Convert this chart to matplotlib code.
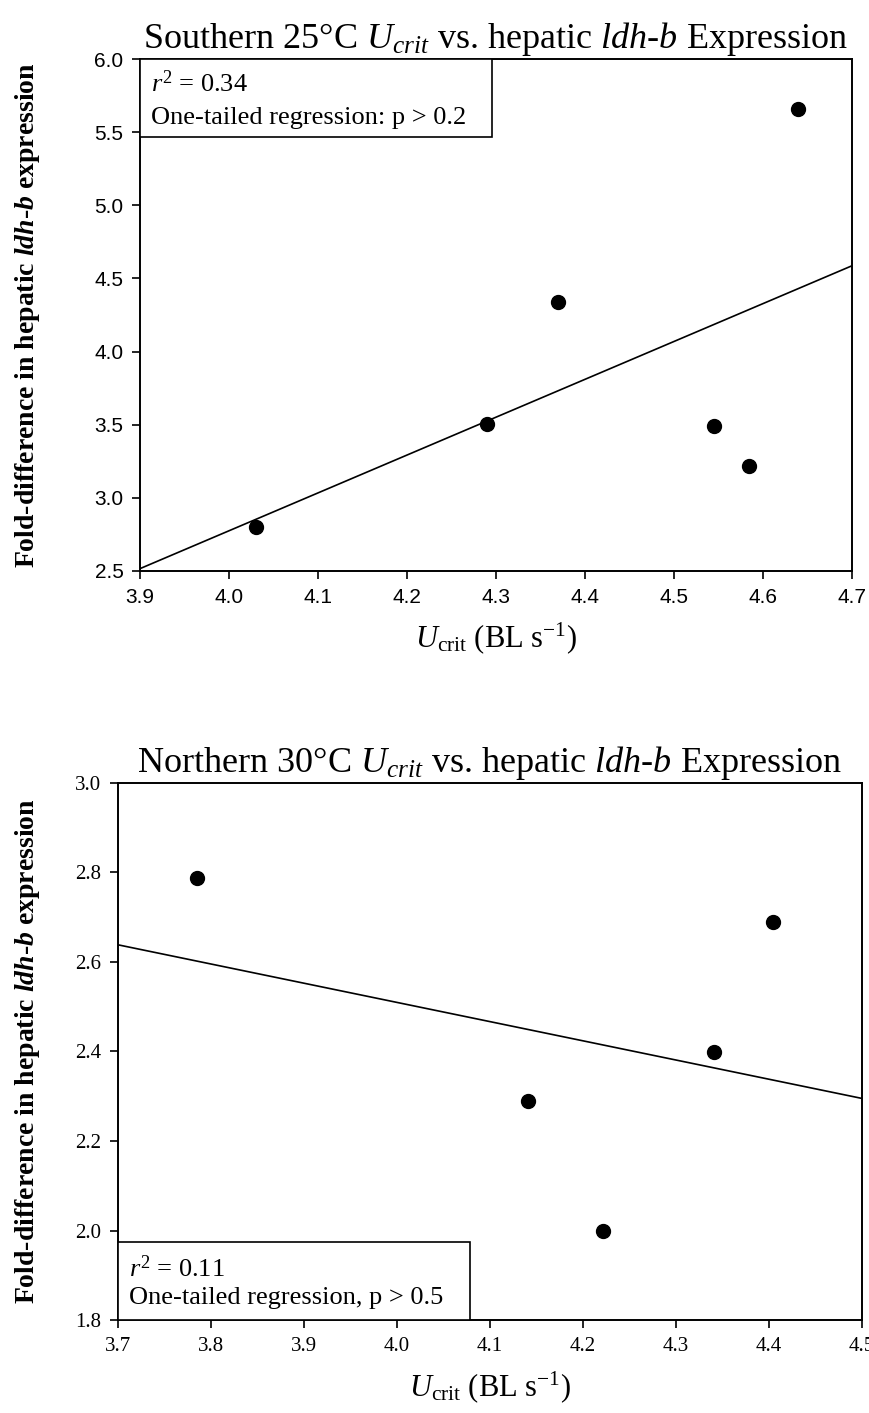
import numpy as np
import matplotlib
matplotlib.use("Agg")
import matplotlib.pyplot as plt
from matplotlib.patches import Rectangle

plt.rcParams['mathtext.fontset'] = 'custom'
plt.rcParams['mathtext.rm'] = 'Liberation Serif'
plt.rcParams['mathtext.it'] = 'Liberation Serif:italic'
plt.rcParams['mathtext.bf'] = 'Liberation Serif:bold'
plt.rcParams['mathtext.bfit'] = 'Liberation Serif:bold:italic'

# --- data ---
south_ucrit = [4.03, 4.29, 4.37, 4.545, 4.585, 4.64]
south_ldhb = [2.80, 3.505, 4.34, 3.49, 3.22, 5.66]
south_xticks = [3.9, 4.0, 4.1, 4.2, 4.3, 4.4, 4.5, 4.6, 4.7]
south_yticks = [2.5, 3.0, 3.5, 4.0, 4.5, 5.0, 5.5, 6.0]

north_ucrit = [3.785, 4.141, 4.222, 4.341, 4.404]
north_ldhb = [2.788, 2.29, 1.999, 2.399, 2.689]
north_xticks = [3.7, 3.8, 3.9, 4.0, 4.1, 4.2, 4.3, 4.4, 4.5]
north_yticks = [1.8, 2.0, 2.2, 2.4, 2.6, 2.8, 3.0]

SERIF = 'Liberation Serif'
SANS = 'Liberation Sans'


def panel(ax, x, y, xticks, yticks, title, stats, box, line_pos, tick_font, tick_size, ylab_x):
    x = np.array(x)
    y = np.array(y)
    ax.set_xlim(xticks[0], xticks[-1])
    ax.set_ylim(yticks[0], yticks[-1])

    # regression line across the full x range
    slope, icpt = np.polyfit(x, y, 1)
    xl = np.array([xticks[0], xticks[-1]])
    ax.plot(xl, slope * xl + icpt, color='black', lw=1.2, zorder=2)
    ax.plot(x, y, 'o', color='black', ms=10, zorder=3, clip_on=False)

    ax.set_xticks(xticks)
    ax.set_yticks(yticks)
    ax.set_xticklabels([f'{v:.1f}' for v in xticks], fontfamily=tick_font, fontsize=tick_size)
    ax.set_yticklabels([f'{v:.1f}' for v in yticks], fontfamily=tick_font, fontsize=tick_size)
    ax.tick_params(direction='out', length=6, width=1.2, pad=6, top=False, right=False)
    for s in ax.spines.values():
        s.set_linewidth(1.4)

    ax.set_title(title, fontfamily=SERIF, fontsize=26, pad=8)
    ax.set_xlabel(r'$U_{\mathrm{crit}}$ (BL s$^{-1}$)', fontfamily=SERIF, fontsize=22, labelpad=10)
    ax.set_ylabel(r'Fold-difference in hepatic $\mathbfit{ldh}$-$\mathbfit{b}$ expression',
                  fontfamily=SERIF, fontweight='bold', fontsize=20)
    ax.yaxis.set_label_coords(ylab_x, 0.5)

    # stats box hugging the axes edge
    bx, by, bw, bh = box
    ax.add_patch(Rectangle((bx, by), bw, bh, transform=ax.transAxes, fill=True,
                           fc='white', ec='black', lw=1.2, zorder=4))
    for txt, frac in zip(stats, line_pos):
        ax.text(bx + 0.015, by + bh * frac, txt, transform=ax.transAxes,
                fontfamily=SERIF, fontsize=19, va='center', ha='left', zorder=5)


fig = plt.figure(figsize=(8.7, 14.13), dpi=100)
ax1 = fig.add_axes([0.161, 0.5959, 0.818, 0.3623])
ax2 = fig.add_axes([0.1356, 0.0658, 0.8552, 0.3801])

panel(ax1, south_ucrit, south_ldhb, south_xticks, south_yticks,
      r'Southern 25°C $U_{crit}$ vs. hepatic $ldh$-$b$ Expression',
      ['$r^2$ = 0.34', 'One-tailed regression: p > 0.2'],
      (0.0, 0.848, 0.494, 0.152), (0.68, 0.24), SANS, 15, -0.138)
panel(ax2, north_ucrit, north_ldhb, north_xticks, north_yticks,
      r'Northern 30°C $U_{crit}$ vs. hepatic $ldh$-$b$ Expression',
      ['$r^2$ = 0.11', 'One-tailed regression, p > 0.5'],
      (0.0, 0.0, 0.473, 0.145), (0.66, 0.28), SERIF, 15, -0.102)

fig.savefig('out.png', dpi=100)
